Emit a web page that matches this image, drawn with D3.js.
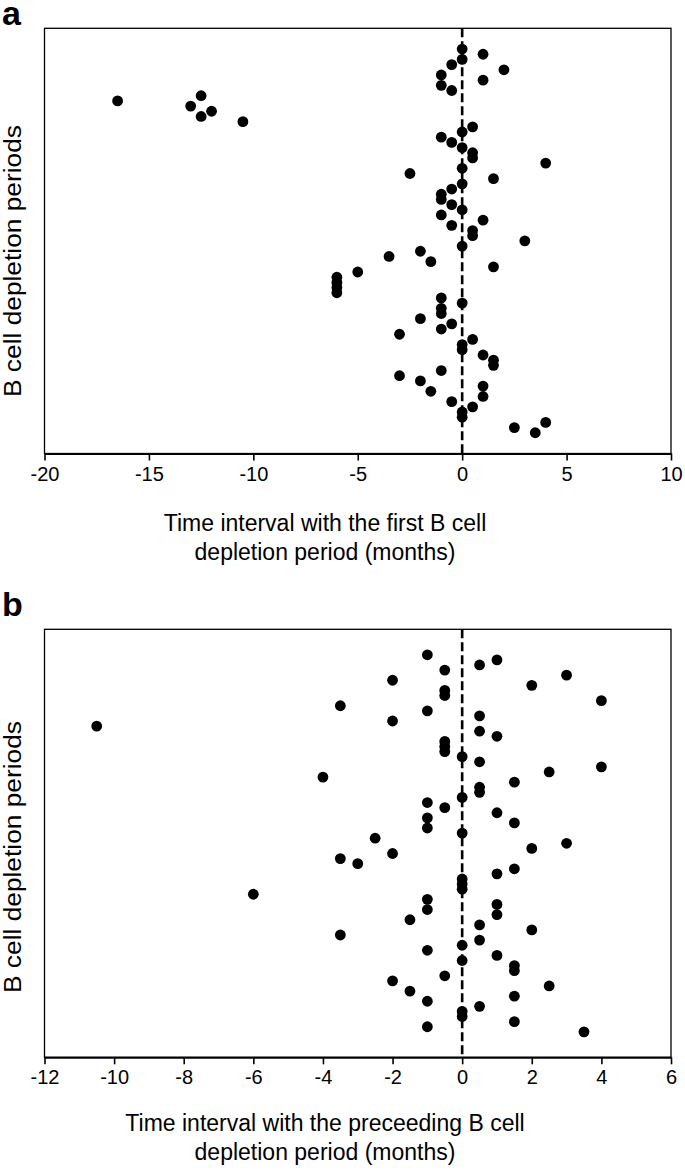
<!DOCTYPE html>
<html>
<head>
<meta charset="utf-8">
<script src="https://cdn.jsdelivr.net/npm/d3@7"></script>
<style>
  html, body { margin: 0; padding: 0; background: #fff; }
  svg { display: block; font-family: "Liberation Sans", Arial, sans-serif; }
</style>
</head>
<body>
<svg id="chart" width="685" height="1173"></svg>
<script>
// ---- Panel a: time interval with the first B cell depletion period (months)
const panelA_x = [0,1,0,-0.5,2,-1,1,-1,-0.5,-12.5,-16.5,-13,-12,-12.5,-10.5,0.5,0,-1,-0.5,0,0.5,0.5,4,0,-2.5,1.5,0,-0.5,-1,-1,-0.5,0,-1,1,-0.5,0.5,0.5,3,0,-2,-3.5,-1.5,1.5,-5,-6,-6,-6,-6,-1,0,-1,-1,-2,-0.5,-1,-3,0.5,0,0,1,1.5,1.5,-1,-3,-2,1,-1.5,1,-0.5,0.5,0,0,4,2.5,3.5];
const panelA_period = [1,2,3,4,5,6,7,8,9,10,11,12,13,14,15,16,17,18,19,20,21,22,23,24,25,26,27,28,29,30,31,32,33,34,35,36,37,38,39,40,41,42,43,44,45,46,47,48,49,50,51,52,53,54,55,56,57,58,59,60,61,62,63,64,65,66,67,68,69,70,71,72,73,74,75];
const panelA_ticks = [-20,-15,-10,-5,0,5,10];

// ---- Panel b: time interval with the preceeding B cell depletion period (months)
const panelB_x = [-1,1,0.5,-0.5,3,-2,2,-0.5,-0.5,4,-3.5,-1,0.5,-2,-10.5,0.5,1,-0.5,-0.5,-0.5,0,0.5,4,2.5,-4,1.5,0.5,0.5,0,-1,-0.5,1,-1,1.5,-1,0,-2.5,3,2,-2,-3.5,-3,1.5,1,0,0,0,-6,-1,1,-1,1,-1.5,0.5,2,-3.5,0.5,0,-1,1,0,1.5,1.5,-0.5,-2,2.5,-1.5,1.5,-1,0.5,0,0,1.5,-1,3.5];
const panelB_period = [1,2,3,4,5,6,7,8,9,10,11,12,13,14,15,16,17,18,19,20,21,22,23,24,25,26,27,28,29,30,31,32,33,34,35,36,37,38,39,40,41,42,43,44,45,46,47,48,49,50,51,52,53,54,55,56,57,58,59,60,61,62,63,64,65,66,67,68,69,70,71,72,73,74,75];
const panelB_ticks = [-12,-10,-8,-6,-4,-2,0,2,4,6];

const yLabel = "B cell depletion periods";

const svg = d3.select("#chart");

function panel(cfg) {
  const g = svg.append("g");
  const x = d3.scaleLinear().domain(cfg.xDomain).range([cfg.left, cfg.right]);
  const y = d3.scaleLinear().domain(cfg.yDomain).range([cfg.top, cfg.bottom]);

  // frame
  g.append("rect")
    .attr("x", cfg.left).attr("y", cfg.top)
    .attr("width", cfg.right - cfg.left).attr("height", cfg.bottom - cfg.top)
    .attr("fill", "none").attr("stroke", "#000").attr("stroke-width", 1.3);

  // zero dashed line
  g.append("line")
    .attr("x1", x(0)).attr("x2", x(0))
    .attr("y1", cfg.top).attr("y2", cfg.bottom)
    .attr("stroke", "#000").attr("stroke-width", 2.6)
    .attr("stroke-dasharray", "9,4");

  // points
  g.append("g").selectAll("circle")
    .data(cfg.xs.map((v, i) => ({ v, p: cfg.ps[i] })))
    .join("circle")
    .attr("cx", d => x(d.v))
    .attr("cy", d => y(d.p))
    .attr("r", 5.4)
    .attr("fill", "#000");

  // x axis
  const ax = g.append("g")
    .attr("transform", `translate(0,${cfg.bottom})`)
    .call(d3.axisBottom(x).tickValues(cfg.ticks).tickSize(7).tickSizeOuter(0).tickFormat(d => String(d)));
  ax.select(".domain").attr("stroke", "#000").attr("stroke-width", 2);
  ax.selectAll(".tick line").attr("stroke", "#000").attr("stroke-width", 1.6);
  ax.selectAll(".tick text")
    .attr("font-family", "Liberation Sans, Arial, sans-serif")
    .attr("font-size", 20).attr("fill", "#000").attr("dy", null).attr("y", 27);

  // x title
  cfg.xTitle.forEach((t, i) => {
    g.append("text")
      .attr("x", 325).attr("y", cfg.titleY + i * 29)
      .attr("text-anchor", "middle")
      .attr("font-size", 23).attr("fill", "#000")
      .text(t);
  });

  // y title
  g.append("text")
    .attr("transform", `translate(21,${cfg.yLabelCenter}) rotate(-90)`)
    .attr("text-anchor", "middle")
    .attr("font-size", 23).attr("fill", "#000")
    .attr("textLength", 272).attr("lengthAdjust", "spacingAndGlyphs")
    .text(yLabel);

  // panel letter
  g.append("text")
    .attr("x", 2).attr("y", cfg.letterY)
    .attr("font-size", 34).attr("font-weight", "bold").attr("fill", "#000")
    .text(cfg.letter);
}

panel({
  xs: panelA_x, ps: panelA_period, ticks: panelA_ticks,
  xDomain: [-20, 10], yDomain: [-3, 79],
  left: 44.5, right: 671, top: 28.3, bottom: 453.5,
  xTitle: ["Time interval with the first B cell", "depletion period (months)"],
  titleY: 531, letter: "a", letterY: 25, yLabelCenter: 261
});

panel({
  xs: panelB_x, ps: panelB_period, ticks: panelB_ticks,
  xDomain: [-12, 6], yDomain: [-4, 80],
  left: 44.5, right: 671, top: 629.3, bottom: 1057.3,
  xTitle: ["Time interval with the preceeding B cell", "depletion period (months)"],
  titleY: 1131, letter: "b", letterY: 616, yLabelCenter: 857
});
</script>
</body>
</html>
